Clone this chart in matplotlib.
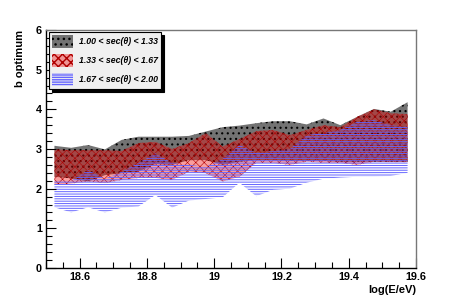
import matplotlib
matplotlib.use('Agg')
import matplotlib.pyplot as plt
import numpy as np

plt.rcParams['font.family'] = ['Liberation Sans', 'DejaVu Sans']

# log(E/eV) bin centres
logE = [18.525, 18.575, 18.625, 18.675, 18.725, 18.775, 18.825, 18.875,
        18.925, 18.975, 19.025, 19.075, 19.125, 19.175, 19.225, 19.275,
        19.325, 19.375, 19.425, 19.475, 19.525, 19.575]

# 1.00 < sec < 1.33
b1_hi = [3.08, 3.03, 3.10, 2.99, 3.23, 3.31, 3.31, 3.31, 3.33, 3.44, 3.55,
         3.59, 3.65, 3.70, 3.70, 3.62, 3.77, 3.60, 3.81, 4.01, 3.94, 4.18]
b1_lo = [2.30, 2.26, 2.18, 2.34, 2.39, 2.43, 2.62, 2.60, 2.72, 2.72, 2.60,
         2.68, 2.72, 2.72, 2.70, 2.70, 2.70, 2.68, 2.68, 2.68, 2.68, 2.68]
# 1.33 < sec < 1.67
b2_hi = [2.99, 2.97, 2.97, 2.97, 2.95, 3.15, 3.18, 3.00, 3.15, 3.40, 3.06,
         3.25, 3.45, 3.48, 3.35, 3.48, 3.60, 3.55, 3.81, 4.00, 3.90, 3.88]
b2_lo = [2.09, 2.13, 2.18, 2.14, 2.22, 2.27, 2.27, 2.22, 2.43, 2.39, 2.18,
         2.30, 2.65, 2.65, 2.60, 2.68, 2.65, 2.65, 2.60, 2.68, 2.67, 2.67]
# 1.67 < sec < 2.00
b3_hi = [2.20, 2.20, 2.47, 2.25, 2.43, 2.65, 2.89, 2.65, 2.60, 2.55, 2.75,
         3.10, 2.90, 2.95, 3.00, 3.35, 3.40, 3.48, 3.69, 3.73, 3.60, 3.56]
b3_lo = [1.53, 1.40, 1.53, 1.40, 1.52, 1.55, 1.84, 1.52, 1.70, 1.74, 1.78,
         2.15, 1.81, 1.97, 2.00, 2.15, 2.25, 2.28, 2.30, 2.30, 2.32, 2.40]

labels = ['1.00 < sec(\u03b8) < 1.33', '1.33 < sec(\u03b8) < 1.67',
          '1.67 < sec(\u03b8) < 2.00']

fig = plt.figure(figsize=(4.63, 2.99), dpi=100)
ax = fig.add_axes([0.0994, 0.1037, 0.7991, 0.796])

with plt.rc_context({'hatch.linewidth': 0.8}):
    h1 = ax.fill_between(logE, b1_lo, b1_hi, facecolor='#737373',
                         edgecolor='black', hatch='...', linewidth=0)
with plt.rc_context({'hatch.linewidth': 0.4}):
    h2 = ax.fill_between(logE, b2_lo, b2_hi, facecolor=(0.95, 0.0, 0.0, 0.38),
                         edgecolor='#b00000', hatch='xxxx', linewidth=0)
with plt.rc_context({'hatch.linewidth': 0.7}):
    h3 = ax.fill_between(logE, b3_lo, b3_hi, facecolor='none',
                         edgecolor='#6464ff', hatch='-------', linewidth=0)

ax.set_xlim(18.5, 19.6)
ax.set_ylim(0, 6)
ax.set_xticks([18.6, 18.8, 19.0, 19.2, 19.4, 19.6])
ax.set_xticklabels(['18.6', '18.8', '19', '19.2', '19.4', '19.6'])
ax.set_xticks(np.arange(18.5, 19.6, 0.05), minor=True)
ax.set_yticks(range(7))
ax.set_yticks(np.arange(0, 6, 0.2), minor=True)
ax.tick_params(which='both', direction='in', top=False, right=False,
               labelsize=7.8, pad=3)
ax.tick_params(which='major', length=7, width=0.8)
ax.tick_params(which='minor', length=4, width=0.8)
for t in ax.get_xticklabels() + ax.get_yticklabels():
    t.set_fontweight('bold')
for s in ax.spines.values():
    s.set_color('#777777')
    s.set_linewidth(1.0)
ax.spines['left'].set_color('black')
ax.spines['bottom'].set_color('black')

ax.set_xlabel('log(E/eV)', loc='right', fontsize=8, fontweight='bold',
              labelpad=2)
ax.set_ylabel('b optimum', loc='top', fontsize=8, fontweight='bold',
              labelpad=8)

leg = ax.legend([h1, h2, h3], labels, loc='upper left',
                bbox_to_anchor=(0.008, 0.992), borderaxespad=0,
                fancybox=False, shadow={'color': 'black', 'alpha': 1},
                framealpha=1, facecolor='#f0f0f0', edgecolor='black',
                prop={'size': 6.3, 'weight': 'bold', 'style': 'italic'},
                handlelength=2.4, handleheight=1.8, handletextpad=0.6,
                labelspacing=0.75, borderpad=0.4)
leg.get_frame().set_linewidth(0.8)

fig.savefig('out.png', dpi=100)
